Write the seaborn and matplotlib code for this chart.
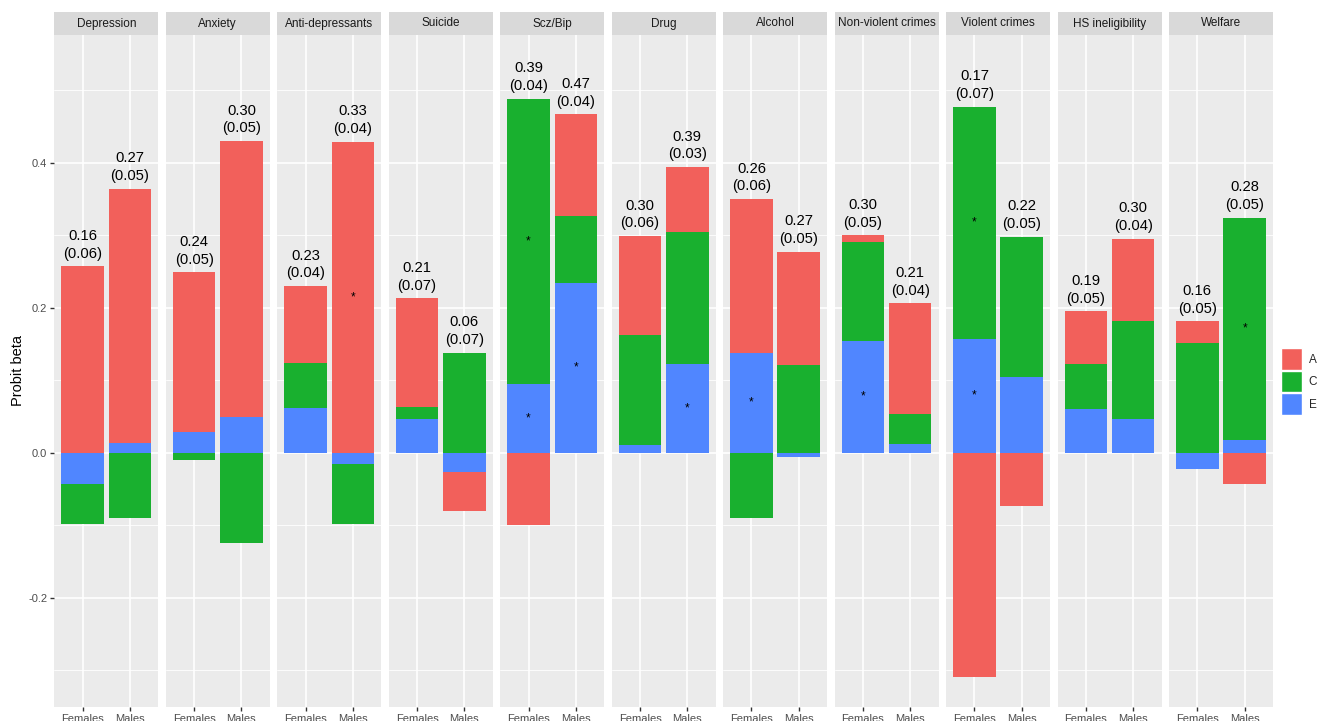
import numpy as np
import matplotlib
matplotlib.use("Agg")
import matplotlib.pyplot as plt
from matplotlib.patches import Rectangle, Patch
import seaborn as sns

# data
outcomes = ["Depression", "Anxiety", "Anti-depressants", "Suicide", "Scz/Bip", "Drug",
            "Alcohol", "Non-violent crimes", "Violent crimes", "HS ineligibility", "Welfare"]
sexes = ["Females", "Males"]

females_A = [0.257, 0.220, 0.106, 0.150, -0.100, 0.136, 0.212, 0.009, -0.309, 0.073, 0.030]
females_C = [-0.055, -0.010, 0.062, 0.017, 0.393, 0.153, -0.090, 0.137, 0.320, 0.062, 0.151]
females_E = [-0.043, 0.029, 0.062, 0.046, 0.095, 0.010, 0.138, 0.154, 0.157, 0.060, -0.022]

males_A = [0.351, 0.381, 0.429, -0.053, 0.140, 0.090, 0.156, 0.153, -0.073, 0.113, -0.043]
males_C = [-0.090, -0.125, -0.083, 0.138, 0.093, 0.182, 0.121, 0.041, 0.193, 0.135, 0.306]
males_E = [0.013, 0.049, -0.016, -0.027, 0.234, 0.122, -0.006, 0.012, 0.105, 0.047, 0.018]

females_est = [0.16, 0.24, 0.23, 0.21, 0.39, 0.30, 0.26, 0.30, 0.17, 0.19, 0.16]
females_se = [0.06, 0.05, 0.04, 0.07, 0.04, 0.06, 0.06, 0.05, 0.07, 0.05, 0.05]
males_est = [0.27, 0.30, 0.33, 0.06, 0.47, 0.39, 0.27, 0.21, 0.22, 0.30, 0.28]
males_se = [0.05, 0.05, 0.04, 0.07, 0.04, 0.03, 0.05, 0.04, 0.05, 0.04, 0.05]

# significant components (outcome, sex, component)
stars = [("Anti-depressants", "Males", "A"),
         ("Scz/Bip", "Females", "C"), ("Scz/Bip", "Females", "E"),
         ("Scz/Bip", "Males", "E"),
         ("Drug", "Males", "E"),
         ("Alcohol", "Females", "E"),
         ("Non-violent crimes", "Females", "E"),
         ("Violent crimes", "Females", "C"), ("Violent crimes", "Females", "E"),
         ("Welfare", "Males", "C")]

components = ["A", "C", "E"]
colors = {"A": "#F2605B", "C": "#19B02F", "E": "#5086FF"}

sns.set_theme(style="darkgrid")
plt.rcParams["font.family"] = ["Liberation Sans", "DejaVu Sans"]

W, H = 1328, 721
fig = plt.figure(figsize=(W / 100, H / 100), dpi=100)

panel_w = 104.0
first_left = 54.3
last_right = 1273.0
gap = (last_right - first_left - 11 * panel_w) / 10
top_px, bottom_px = 35.0, 706.7
strip_h = 23.0
panel_h = bottom_px - top_px

vals = {"Females": {"A": females_A, "C": females_C, "E": females_E},
        "Males": {"A": males_A, "C": males_C, "E": males_E}}
labels = {"Females": (females_est, females_se), "Males": (males_est, males_se)}

for i, name in enumerate(outcomes):
    left = first_left + i * (panel_w + gap)
    ax = fig.add_axes([left / W, 1 - bottom_px / H, panel_w / W, panel_h / H])
    ax.set_facecolor("#EBEBEB")
    ax.set_xlim(-0.6, 1.6)
    ax.set_ylim(-0.3503, 0.5761)
    ax.set_yticks([-0.2, 0.0, 0.2, 0.4])
    ax.set_yticks([-0.3, -0.1, 0.1, 0.3, 0.5], minor=True)
    ax.set_xticks([0, 1])
    ax.set_xticklabels(sexes)
    ax.grid(which="major", color="white", linewidth=1.2)
    ax.grid(which="minor", axis="y", color="white", linewidth=0.6)
    ax.set_axisbelow(True)
    for s in ax.spines.values():
        s.set_visible(False)
    ax.tick_params(axis="x", which="major", length=3, width=1, color="#333333",
                   labelsize=8, labelcolor="#4D4D4D", pad=2, bottom=True)
    ax.tick_params(axis="y", which="both", left=False)
    if i == 0:
        ax.tick_params(axis="y", which="major", left=True, length=3, width=1, color="#333333",
                       labelsize=8, labelcolor="#4D4D4D", pad=2)
        ax.set_yticklabels(["-0.2", "0.0", "0.2", "0.4"])
        ax.set_ylabel("Probit beta", fontsize=10.5, color="black", labelpad=2)
    else:
        ax.set_yticklabels([])

    for j, sex in enumerate(sexes):
        pos_base, neg_base = 0.0, 0.0
        centers = {}
        for comp in ["E", "C", "A"]:
            v = vals[sex][comp][i]
            if v >= 0:
                ax.bar(j, v, bottom=pos_base, width=0.9, color=colors[comp], linewidth=0)
                centers[comp] = pos_base + v / 2
                pos_base += v
            else:
                ax.bar(j, v, bottom=neg_base, width=0.9, color=colors[comp], linewidth=0)
                centers[comp] = neg_base + v / 2
                neg_base += v
        est, se = labels[sex]
        ax.annotate(f"{est[i]:.2f}\n({se[i]:.2f})", (j, pos_base), xytext=(0, 4),
                    textcoords="offset points", ha="center", va="bottom",
                    fontsize=10.6, linespacing=1.35, color="black")
        for (o, s, c) in stars:
            if o == name and s == sex:
                ax.text(j, centers[c], "*", ha="center", va="center", fontsize=8.5, color="black")

    # facet strip
    ax.add_patch(Rectangle((0, 1), 1, strip_h / panel_h, transform=ax.transAxes,
                           facecolor="#D9D9D9", edgecolor="none", clip_on=False))
    ax.text(0.5, 1 + strip_h / 2 / panel_h, name, transform=ax.transAxes,
            ha="center", va="center", fontsize=8.5, color="#1A1A1A")

handles = [Patch(facecolor=colors[c], edgecolor="white", linewidth=1, label=c) for c in components]
fig.legend(handles=handles, loc="center left", bbox_to_anchor=(1281 / W, 1 - 381.5 / H),
           frameon=False, fontsize=8.5, handlelength=1.75, handleheight=2.4,
           handletextpad=0.6, labelspacing=0.1, borderaxespad=0, borderpad=0)

fig.savefig("out.png", dpi=100)
